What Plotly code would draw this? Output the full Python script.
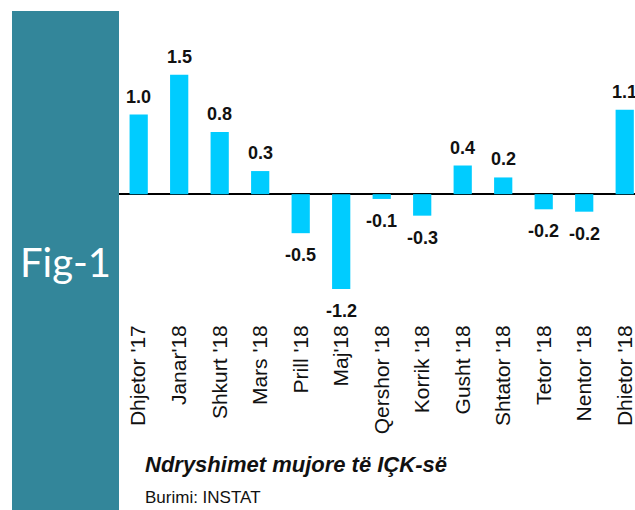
import plotly.graph_objects as go

categories = ["Dhjetor '17", "Janar'18", "Shkurt '18", "Mars '18", "Prill '18", "Maj'18",
              "Qershor '18", "Korrik '18", "Gusht '18", "Shtator '18", "Tetor '18",
              "Nentor '18", "Dhietor '18"]
values = [1.0, 1.5, 0.78, 0.29, -0.49, -1.19, -0.06, -0.27, 0.36, 0.21, -0.19, -0.22, 1.06]
labels = ["%.1f" % v for v in values]

title_text = "Ndryshimet mujore të IÇK-së"
source_text = "Burimi: INSTAT"
panel_text = "Fig-1"

W, H = 635, 510
L, R, T, B = 119, 0, 11, 190
pw, ph = W - L - R, H - T - B

def px(x):
    return (x - L) / pw

def py(y):
    return (H - B - y) / ph

fig = go.Figure()
fig.add_trace(go.Bar(
    x=list(range(len(categories))), y=values,
    marker=dict(color="#00CCFF", line=dict(width=0)),
    width=0.45, hoverinfo="skip",
))

for i, (v, t) in enumerate(zip(values, labels)):
    fig.add_annotation(
        x=i, y=v, xref="x", yref="y", text="<b>%s</b>" % t, showarrow=False,
        yanchor="bottom" if v >= 0 else "top",
        yshift=6 if v >= 0 else -10,
        font=dict(family="Liberation Sans, Arial, sans-serif", size=18, color="#111111"),
    )

# left teal panel
fig.add_shape(type="rect", xref="paper", yref="paper",
              x0=px(12), x1=px(119), y0=py(512), y1=py(11),
              fillcolor="#33869A", line=dict(width=0), layer="below")
fig.add_annotation(xref="paper", yref="paper", x=px(65), y=py(262), text=panel_text,
                   showarrow=False, xanchor="center", yanchor="middle",
                   font=dict(family="Lato, Open Sans, sans-serif", size=40, color="white"))
fig.add_annotation(xref="paper", yref="paper", x=px(143), y=py(464), text="<b><i>%s</i></b>" % title_text,
                   showarrow=False, xanchor="left", yanchor="middle",
                   font=dict(family="Liberation Sans, Arial, sans-serif", size=22, color="#111111"))
fig.add_annotation(xref="paper", yref="paper", x=px(143), y=py(497), text=source_text,
                   showarrow=False, xanchor="left", yanchor="middle",
                   font=dict(family="Liberation Sans, Arial, sans-serif", size=17, color="#111111"))

fig.update_layout(
    width=W, height=H, margin=dict(l=L, r=R, t=T, b=B, pad=0),
    paper_bgcolor="white", plot_bgcolor="white", showlegend=False,
    bargap=0.55,
)
fig.update_xaxes(
    tickmode="array", tickvals=list(range(len(categories))), ticktext=categories,
    range=[-0.486, 12.254], tickangle=-90, showgrid=False, showline=False, ticks="",
    tickfont=dict(family="Liberation Sans, Arial, sans-serif", size=21, color="#111111"),
    zeroline=False, ticklabeloverflow="allow",
)
fig.update_yaxes(
    range=[-1.58, 2.30], showgrid=False, showticklabels=False, ticks="",
    zeroline=True, zerolinecolor="black", zerolinewidth=2, showline=False,
)

fig.write_html("out.html", config={"displayModeBar": False},
               post_script="document.body.style.margin='0px';document.body.style.overflow='hidden';")
